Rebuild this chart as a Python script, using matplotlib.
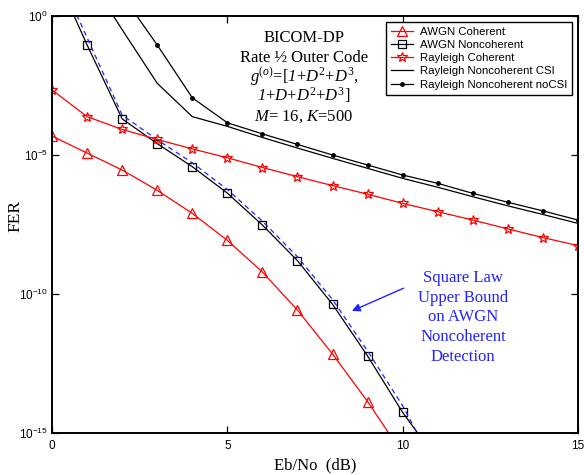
import numpy as np
import matplotlib
matplotlib.use("Agg")
import matplotlib.pyplot as plt

W, H, DPI = 584, 475, 100
BLUE = "#2323ff"

plt.rcParams["font.family"] = ["Liberation Serif", "DejaVu Serif"]
plt.rcParams["mathtext.fontset"] = "custom"
plt.rcParams["mathtext.rm"] = "Liberation Serif"
plt.rcParams["mathtext.it"] = "Liberation Serif:italic"
plt.rcParams["mathtext.cal"] = "Liberation Serif:italic"
plt.rcParams["mathtext.sf"] = "Liberation Sans"

# log10(FER), per Eb/No (dB)
awgn_coh_x = np.arange(0, 11)
awgn_coh = [-4.32, -4.93, -5.54, -6.27, -7.10, -8.07, -9.21, -10.58, -12.16, -13.87, -15.75]

awgn_nc_x = np.arange(0, 12)
awgn_nc = [1.77, -1.04, -3.70, -4.59, -5.42, -6.37, -7.52, -8.80, -10.37, -12.23, -14.26, -16.0]

bound_x = np.arange(0, 12)
bound = [2.0, -0.78, -3.56, -4.45, -5.28, -6.24, -7.38, -8.66, -10.20, -12.05, -14.02, -16.4]

ray_coh_x = np.arange(0, 16)
ray_coh = [-2.66, -3.62, -4.08, -4.44, -4.78, -5.10, -5.45, -5.78, -6.10, -6.41,
           -6.74, -7.04, -7.34, -7.66, -7.97, -8.26]

ray_csi_x = np.arange(1, 16)
ray_csi = [1.47, -0.49, -2.42, -3.62, -3.97, -4.37, -4.75, -5.12, -5.48, -5.84,
           -6.16, -6.50, -6.83, -7.14, -7.46]

ray_nocsi_x = np.arange(2, 16)
ray_nocsi = [0.75, -1.04, -2.94, -3.84, -4.24, -4.62, -5.00, -5.36, -5.72, -6.02,
             -6.38, -6.70, -7.01, -7.34]

y_ticks = [1e0, 1e-5, 1e-10, 1e-15]
y_ticklabels = [r"$\mathsf{10^{0}}$", r"$\mathsf{10^{-5}}$", r"$\mathsf{10^{-10}}$", r"$\mathsf{10^{-15}}$"]
x_ticks = [0, 5, 10, 15]

info_lines = ["BICOM-DP",
              "Rate \u00bd Outer Code",
              r"$g^{(o)}$=[$\mathcal{1}$+$D^2$+$D^3$,",
              r"$\mathcal{1}$+$D$+$D^2$+$D^3$]",
              r"$M$= 16, $K$=500"]
bound_lines = ["Square Law", "Upper Bound", "on AWGN", "Noncoherent", "Detection"]


def p10(v):
    return 10.0 ** np.asarray(v)


fig = plt.figure(figsize=(W / DPI, H / DPI), dpi=DPI, facecolor="white")
ax = fig.add_axes([52 / W, 1 - 433 / H, 526 / W, 417 / H])

ax.semilogy(awgn_coh_x, p10(awgn_coh), color="red", lw=0.9, marker="^", ms=7,
            mfc="none", mec="red", mew=0.9, label="AWGN Coherent")
ax.semilogy(awgn_nc_x, p10(awgn_nc), color="black", lw=0.9, marker="s", ms=6,
            mfc="none", mec="black", mew=0.9, label="AWGN Noncoherent")
ax.semilogy(bound_x, p10(bound), color=BLUE, lw=0.9, ls=(0, (4, 3)))
ax.semilogy(ray_coh_x, p10(ray_coh), color="red", lw=0.9, marker="*", ms=7.5,
            mfc="none", mec="red", mew=0.9, label="Rayleigh Coherent")
ax.semilogy(ray_csi_x, p10(ray_csi), color="black", lw=0.9,
            label="Rayleigh Noncoherent CSI")
ax.semilogy(ray_nocsi_x, p10(ray_nocsi), color="black", lw=0.9, marker="o", ms=2.5,
            label="Rayleigh Noncoherent noCSI")

ax.set_xlim(0, 15)
ax.set_ylim(1e-15, 1e0)
ax.set_xticks(x_ticks)
ax.set_xticklabels([str(t) for t in x_ticks], family="Liberation Sans", fontsize=8.5)
ax.set_yticks(y_ticks)
ax.set_yticklabels(y_ticklabels, fontsize=8.5)
ax.minorticks_off()
ax.tick_params(axis="both", direction="in", length=5, width=0.9,
               top=True, right=True, colors="black")
ax.tick_params(axis="x", pad=5)
ax.tick_params(axis="y", pad=3)
for s in ax.spines.values():
    s.set_linewidth(1.4)

ax.set_xlabel("Eb/No  (dB)", fontsize=12)
ax.xaxis.set_label_coords(0.5, -24 / 417)
ax.set_ylabel("FER", fontsize=12.5)
ax.yaxis.set_label_coords(-29 / 526, 0.52)

leg = ax.legend(loc="upper right", prop={"family": "Liberation Sans", "size": 8.2},
                frameon=True, fancybox=False, edgecolor="black", framealpha=1,
                borderaxespad=0.5, borderpad=0.45, labelspacing=0.28,
                handlelength=1.9, handletextpad=0.6)
leg.get_frame().set_linewidth(1.0)

# text block with code parameters
for i, line in enumerate(info_lines):
    fig.text(304 / W, 1 - (42 + 19.6 * i) / H, line, ha="center", va="baseline",
             fontsize=12)

# bound annotation
for i, line in enumerate(bound_lines):
    fig.text(463 / W, 1 - (282 + 19.7 * i) / H, line, ha="center", va="baseline",
             fontsize=12, color=BLUE)
ax.annotate("", xy=(8.48, 10 ** -10.65), xytext=(10.1, 10 ** -9.75),
            arrowprops=dict(arrowstyle="-|>", color=BLUE, lw=1.0, mutation_scale=12))

fig.savefig("out.png", dpi=DPI, facecolor="white")
